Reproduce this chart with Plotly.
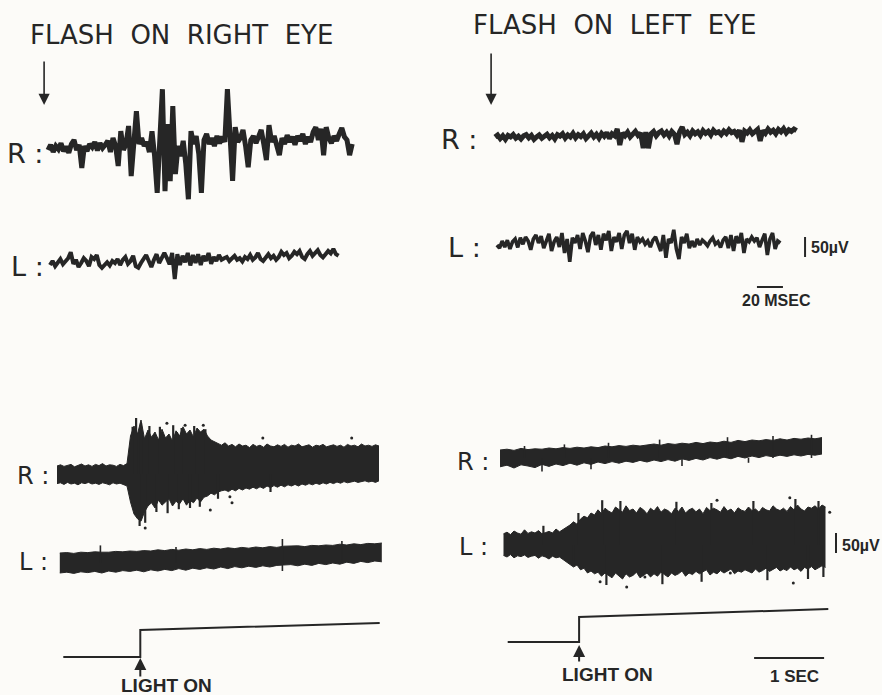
import plotly.graph_objects as go

# ---------------------------------------------------------------------------
# Page geometry and recording scales
# ---------------------------------------------------------------------------
W, H = 882, 695
PX_PER_MS = 1.3      # fast sweeps (top): 20 msec = 26 px
PX_PER_S = 70.0      # slow sweeps (bottom): 1 sec = 70 px
PX_PER_UV = 0.4      # 50 uV = 20 px

INK = "#262626"
PAPER = "#fcfbf8"

# ---------------------------------------------------------------------------
# Flash-evoked activity, 2 msec sampling (uV)
# ---------------------------------------------------------------------------
DT_MS = 2.0

flash_right_R = [
    -5, 8, -10, 5, -3, 12, -8, 4, -12, 10,
    20, -5, 8, -50, 5, -8, 10, 2, 15, -6,
    12, 0, 8, 18, -10, 25, 5, -45, 42, -5,
    10, 55, -70, 15, 92, 10, 25, 5, 15, -10,
    42, -20, -112, 20, 147, -108, 60, -83, 105, -65,
    5, -20, 18, -40, -128, 42, 10, 30, -15, -112,
    20, 35, 10, 25, 5, 30, 12, 28, 15, 147,
    20, -82, 52, 15, 25, 45, 5, -48, 20, 30,
    12, 28, 45, 10, -30, 57, 15, 30, 5, -18,
    25, 10, 32, 15, 28, 8, 30, 18, 35, 10,
    28, 15, 40, 52, 20, 48, -18, 52, 25, 12,
    30, 18, 35, 50, 28, 20, -18, 10,
]
flash_right_L = [
    -5, 5, -8, 2, 10, -3, 5, 12, 27, -2,
    8, -10, 0, 12, 5, -8, 15, 10, 20, -5,
    -12, -5, 2, -6, 5, 0, 10, -5, 8, 15,
    -2, 5, 18, -8, -12, 0, 10, 20, 5, -10,
    8, 22, 0, 15, 25, 12, -3, 25, -40, 22,
    -5, 18, 2, 25, -6, 20, 0, 22, -5, 18,
    5, 25, -2, 15, 5, 20, 8, 12, 15, 5,
    10, 18, 8, 12, 4, 15, 10, 20, 8, 14,
    25, 10, 5, 15, 22, 12, 18, 8, 15, 28,
    20, 25, 12, 18, 28, 22, 30, 15, 10, 22,
    30, 18, 25, 32, 20, 14, 22, 30, 24, 35,
    22, 18,
]
flash_left_R = [
    0, 5, -4, 3, -6, 4, 0, 6, -3, 2,
    -5, 3, 6, -2, 4, -6, 0, 5, -3, 2,
    7, -2, 4, -5, 6, 2, 8, -3, 5, 0,
    9, -2, 6, 1, 8, -4, 5, 10, 0, 7,
    -3, 9, 2, 11, -4, 8, 3, 20, -20, 10,
    3, 12, 0, 9, 14, 4, 10, -28, 12, -28,
    8, 14, 3, 11, 15, 5, 12, 2, 14, 7,
    -18, 13, 25, 6, 12, 3, 15, 8, 13, 4,
    16, 9, 14, 5, 17, 10, 13, 6, 15, 9,
    18, 11, 14, 5, 17, -12, 15, 10, 18, 8,
    14, 19, -10, 16, 9, 20, 12, 17, 8, 19,
    13, 21, 10, 18, 14, 20, 16,
]
flash_left_L = [
    0, -8, 10, -5, 12, -10, 8, 15, -6, 18,
    2, 20, 10, -12, 15, 25, 5, 22, -8, 12,
    28, -15, 8, 20, -5, 30, -20, 15, -42, 18,
    5, 25, -10, 30, 10, -18, 22, 32, 0, 25,
    -12, 28, 12, 35, -15, 20, 8, 30, -10, 25,
    35, 5, 28, -12, 20, 8, 15, 2, 10, -5,
    12, 20, 5, -15, 25, -32, 15, 5, 38, -10,
    -35, 20, 5, 28, -8, 10, -5, 15, 0, 12,
    6, -2, 10, 18, 2, 8, -6, 12, 20, -8,
    25, -15, 22, 5, 30, -20, 15, 8, 20, 10,
    18, -5, 12, 28, -25, 15, 30, -10, 10, 5,
]

# ---------------------------------------------------------------------------
# Light-on records: upper / lower envelope of the ink band (uV)
# ---------------------------------------------------------------------------
DT_FAST = 0.05   # sec
DT_SLOW = 0.10   # sec

light1_R_hi = [
    20, 23, 19, 22, 24, 18, 22, 25, 20, 23,
    19, 24, 21, 26, 20, 23, 22, 19, 24, 21,
    26, 95, 120, 100, 135, 88, 110, 92, 105, 85,
    112, 90, 100, 82, 108, 95, 118, 100, 110, 92,
    115, 105, 112, 95, 85, 80, 76, 72, 78, 70,
    74, 68, 75, 70, 72, 66, 74, 69, 72, 67,
    75, 70, 68, 73, 69, 74, 67, 72, 70, 75,
    68, 71, 73, 67, 72, 70, 74, 68, 71, 73,
    69, 72, 67, 74, 70, 72, 68, 75, 70, 72,
    69, 73, 70,
]
light1_R_lo = [
    -24, -22, -26, -21, -25, -23, -27, -22, -24, -21,
    -25, -23, -26, -22, -24, -27, -22, -25, -23, -26,
    -30, -70, -100, -112, -118, -95, -80, -72, -85, -65,
    -78, -70, -62, -80, -68, -75, -62, -78, -66, -72,
    -60, -70, -58, -55, -48, -52, -45, -42, -40, -44,
    -38, -42, -36, -40, -35, -38, -33, -37, -32, -36,
    -30, -34, -29, -33, -28, -32, -27, -30, -26, -30,
    -25, -28, -24, -27, -23, -26, -22, -25, -21, -24,
    -20, -23, -19, -22, -20, -18, -21, -19, -17, -20,
    -18, -21, -17,
]
light1_L_hi = [
    25, 26, 24, 27, 26, 28, 27, 27, 29, 28,
    30, 29, 31, 30, 33, 31, 34, 32, 35, 33,
    36, 34, 37, 35, 38, 36, 39, 37, 40, 38,
    41, 39, 42, 42, 43, 41, 44, 43, 45, 44,
    47, 45, 48, 46, 49, 48, 50,
]
light1_L_lo = [
    -25, -23, -26, -22, -24, -21, -25, -20, -23, -19,
    -21, -18, -22, -17, -20, -16, -19, -14, -18, -13,
    -16, -12, -15, -10, -14, -9, -12, -8, -11, -7,
    -10, -6, -5, -4, -7, -3, -6, -1, -4, 0,
    -3, 2, -1, 4, 1, 5, 3,
]
light2_R_hi = [
    20, 22, 19, 24, 21, 23, 22, 25, 23, 26,
    24, 27, 25, 28, 26, 30, 28, 31, 29, 32,
    30, 33, 35, 32, 36, 34, 37, 35, 39, 36,
    40, 38, 42, 39, 44, 41, 45, 43, 46, 44,
    48, 45, 49, 47, 50, 48, 51,
]
light2_R_lo = [
    -22, -18, -25, -17, -20, -24, -16, -21, -15, -19,
    -13, -18, -12, -16, -10, -14, -9, -13, -8, -11,
    -6, -10, -5, -9, -4, -8, -2, -6, -1, -5,
    1, -3, 2, -2, 4, 0, 5, 1, 6, 3,
    7, 4, 8, 5, 9, 7, 10,
]
light2_L_hi = [
    28, 32, 26, 35, 30, 27, 38, 29, 33, 30,
    36, 28, 31, 34, 30, 40, 33, 38, 45, 50,
    58, 52, 65, 72, 68, 80, 75, 88, 78, 92,
    85, 80, 95, 88, 82, 98, 86, 90, 80, 94,
    88, 78, 92, 85, 96, 82, 90, 86, 78, 92,
    84, 95, 80, 88, 92, 83, 90, 78, 94, 86,
    92, 88, 82, 96, 85, 90, 80, 93, 87, 84,
    95, 86, 90, 82, 94, 88, 85, 98, 90, 86,
    92, 84, 96, 88, 100, 90, 85, 95, 92, 98,
    90, 100, 95,
]
light2_L_lo = [
    -26, -30, -24, -32, -27, -29, -25, -31, -28, -26,
    -33, -27, -30, -35, -28, -32, -30, -36, -42, -48,
    -55, -50, -62, -58, -70, -65, -72, -68, -78, -70,
    -75, -82, -70, -78, -85, -72, -80, -76, -68, -82,
    -75, -70, -80, -72, -78, -68, -74, -80, -70, -76,
    -72, -65, -78, -70, -74, -66, -72, -68, -62, -75,
    -68, -72, -64, -70, -66, -60, -72, -65, -68, -62,
    -66, -70, -60, -68, -64, -58, -66, -62, -56, -65,
    -60, -64, -55, -62, -58, -66, -56, -60, -54, -62,
    -58, -52, -56,
]

# isolated pen strokes sticking out of the bands: (sec, uV peak)
light1_R_spike_t = [1.08, 1.13, 1.20, 1.32, 1.47, 1.66, 1.78, 1.96, 2.12,
                    1.18, 1.26, 1.42, 1.58, 1.74, 1.90, 2.04, 2.30, 3.05]
light1_R_spike_v = [118, 140, 128, 120, 118, 122, 115, 120, 112,
                    -130, -122, -95, -98, -88, -85, -82, -62, -45]
light1_L_spike_t = [0.62, 1.70, 3.22, 4.07, 3.22]
light1_L_spike_v = [44, 40, 60, 55, -20]
light2_R_spike_t = [0.35, 0.92, 1.55, 2.28, 3.25, 3.90, 4.45, 0.60, 1.30, 2.60, 3.55]
light2_R_spike_v = [30, 34, 38, 46, 52, 55, 58, -34, -28, -20, -12]
light2_L_spike_t = [0.62, 1.12, 1.46, 1.72, 2.52, 3.02, 3.62, 4.22, 4.55,
                    1.05, 1.52, 2.32, 2.88, 3.82, 4.40, 4.62]
light2_L_spike_v = [48, 80, 112, 110, 108, 105, 110, 115, 110,
                    -50, -100, -98, -92, -88, -85, -80]

# scattered ink specks around the bursts: (sec, uV)
light1_R_specks_t = [1.57, 1.83, 2.09, 1.71, 2.50, 2.47, 2.19, 1.26, 2.94, 4.21]
light1_R_specks_v = [127, 122, 122, 102, -72, -57, -90, -135, 90, 90]
light2_L_specks_t = [1.43, 1.81, 2.07, 3.10, 4.14, 4.19, 4.71, 3.29]
light2_L_specks_v = [-92, -105, -80, 112, 118, -95, 82, -70]

# light monitor: step times (sec) and level (0 = off, 1 = on, with pen drift)
light1_stim_t = [0.09, 1.19, 1.19, 4.61]
light1_stim_v = [0, 0, 1, 1.26]
light2_stim_t = [0.11, 1.13, 1.13, 4.69]
light2_stim_v = [0, 0, 1, 1.32]

# ---------------------------------------------------------------------------
# Page layout (pixel positions of sweep origins and baselines)
# ---------------------------------------------------------------------------
PANEL = {
    "x":  dict(x0=48,  R=148, L=263, L_t0=1.5),
    "x2": dict(x0=495, R=137, L=245, L_t0=1.5),
    "x3": dict(x0=57,  R=474, L=563, L_t0=0.04, stim=657, stim_h=27),
    "x4": dict(x0=500, R=458, L=545, L_t0=0.05, stim=642, stim_h=25),
}


def base(px):
    """Baseline value (uV on the page axis) for a pixel row."""
    return -px / PX_PER_UV


def py(px):
    return 1 - px / H


fig = go.Figure()


def sweep(xaxis, values, dt, t0, baseline_px, width):
    b = base(baseline_px)
    fig.add_trace(go.Scatter(
        x=[t0 + i * dt for i in range(len(values))],
        y=[v + b for v in values],
        xaxis=xaxis, yaxis="y", mode="lines",
        line=dict(color=INK, width=width, shape="linear"),
        hoverinfo="skip", showlegend=False))


def band(xaxis, hi, lo, dt, t0, baseline_px):
    b = base(baseline_px)
    t = [t0 + i * dt for i in range(len(hi))]
    fig.add_trace(go.Scatter(
        x=t, y=[v + b for v in hi], xaxis=xaxis, yaxis="y", mode="lines",
        line=dict(color=INK, width=1), hoverinfo="skip", showlegend=False))
    fig.add_trace(go.Scatter(
        x=t, y=[v + b for v in lo], xaxis=xaxis, yaxis="y", mode="lines",
        line=dict(color=INK, width=1), fill="tonexty", fillcolor=INK,
        hoverinfo="skip", showlegend=False))


def spikes(xaxis, ts, vs, baseline_px, width=1.6):
    b = base(baseline_px)
    xs, ys = [], []
    for t, v in zip(ts, vs):
        xs += [t, t, None]
        ys += [b, b + v, None]
    fig.add_trace(go.Scatter(
        x=xs, y=ys, xaxis=xaxis, yaxis="y", mode="lines",
        line=dict(color=INK, width=width), hoverinfo="skip", showlegend=False))


def specks(xaxis, ts, vs, baseline_px):
    b = base(baseline_px)
    fig.add_trace(go.Scatter(
        x=ts, y=[v + b for v in vs], xaxis=xaxis, yaxis="y", mode="markers",
        marker=dict(color=INK, size=3), hoverinfo="skip", showlegend=False))


def stim(xaxis, ts, vs, p):
    b = base(p["stim"])
    k = p["stim_h"] / PX_PER_UV
    fig.add_trace(go.Scatter(
        x=ts, y=[b + v * k for v in vs], xaxis=xaxis, yaxis="y", mode="lines",
        line=dict(color=INK, width=2), hoverinfo="skip", showlegend=False))


def bar(xaxis, xs, ys):
    fig.add_trace(go.Scatter(
        x=xs, y=ys, xaxis=xaxis, yaxis="y", mode="lines",
        line=dict(color=INK, width=2), hoverinfo="skip", showlegend=False))


# flash sweeps
p = PANEL["x"]
sweep("x", flash_right_R, DT_MS, 0, p["R"], 5.0)
sweep("x", flash_right_L, DT_MS, p["L_t0"], p["L"], 4.0)
p = PANEL["x2"]
sweep("x2", flash_left_R, DT_MS, 0, p["R"], 5.0)
sweep("x2", flash_left_L, DT_MS, p["L_t0"], p["L"], 3.6)

# light-on sweeps
p = PANEL["x3"]
band("x3", light1_R_hi, light1_R_lo, DT_FAST, 0, p["R"])
spikes("x3", light1_R_spike_t, light1_R_spike_v, p["R"], 2.2)
band("x3", light1_L_hi, light1_L_lo, DT_SLOW, p["L_t0"], p["L"])
spikes("x3", light1_L_spike_t, light1_L_spike_v, p["L"])
specks("x3", light1_R_specks_t, light1_R_specks_v, p["R"])
stim("x3", light1_stim_t, light1_stim_v, p)
p = PANEL["x4"]
band("x4", light2_R_hi, light2_R_lo, DT_SLOW, 0, p["R"])
spikes("x4", light2_R_spike_t, light2_R_spike_v, p["R"])
band("x4", light2_L_hi, light2_L_lo, DT_FAST, p["L_t0"], p["L"])
spikes("x4", light2_L_spike_t, light2_L_spike_v, p["L"], 2.2)
specks("x4", light2_L_specks_t, light2_L_specks_v, p["L"])
stim("x4", light2_stim_t, light2_stim_v, p)

# calibration bars
UV_BAR = 50
MS_BAR = 20
S_BAR = 1
bar("x2", [238.5, 238.5], [base(257), base(257) + UV_BAR])
bar("x2", [201.5, 201.5 + MS_BAR], [base(287), base(287)])
bar("x4", [3.63, 3.63 + S_BAR], [base(658), base(658)])
bar("x4", [4.8, 4.8], [base(553), base(553) + UV_BAR])


def axis_range(x0_px, px_per_unit):
    return [-x0_px / px_per_unit, (W - x0_px) / px_per_unit]


hidden = dict(visible=False, showgrid=False, zeroline=False, fixedrange=True)
fig.update_layout(
    width=W, height=H, autosize=False,
    margin=dict(l=0, r=0, t=0, b=0, pad=0),
    paper_bgcolor=PAPER, plot_bgcolor="rgba(0,0,0,0)",
    xaxis=dict(range=axis_range(PANEL["x"]["x0"], PX_PER_MS), domain=[0, 1], **hidden),
    xaxis2=dict(range=axis_range(PANEL["x2"]["x0"], PX_PER_MS), overlaying="x", anchor="y", **hidden),
    xaxis3=dict(range=axis_range(PANEL["x3"]["x0"], PX_PER_S), overlaying="x", anchor="y", **hidden),
    xaxis4=dict(range=axis_range(PANEL["x4"]["x0"], PX_PER_S), overlaying="x", anchor="y", **hidden),
    yaxis=dict(range=[-H / PX_PER_UV, 0], domain=[0, 1], **hidden),
)

ann = []
TITLE_FONT = dict(family="DejaVu Sans", size=26, color=INK)
LABEL_FONT = dict(family="DejaVu Sans", size=27, color=INK)
LABEL_FONT_SM = dict(family="DejaVu Sans", size=24, color=INK)
BOLD_FONT = dict(family="Liberation Sans", size=19, color=INK)
CAL_FONT = dict(family="Liberation Sans", size=16, color=INK)
NB = "\u00a0\u00a0"


def text(s, x_px, y_px, font, xanchor="left"):
    ann.append(dict(text=s, x=x_px / W, y=py(y_px), xref="paper", yref="paper",
                    xanchor=xanchor, yanchor="middle", showarrow=False, font=font))


text(NB.join(["FLASH", "ON", "RIGHT", "EYE"]), 28, 35, TITLE_FONT)
text(NB.join(["FLASH", "ON", "LEFT", "EYE"]), 471, 25, TITLE_FONT)

text("R :", 5, 153, LABEL_FONT)
text("L :", 9, 266, LABEL_FONT)
text("R :", 439, 140, LABEL_FONT)
text("L :", 446, 247, LABEL_FONT)
text("R :", 15, 476, LABEL_FONT_SM)
text("L :", 17, 562, LABEL_FONT_SM)
text("R :", 455, 462, LABEL_FONT_SM)
text("L :", 457, 547, LABEL_FONT_SM)

text("<b>50\u00b5V</b>", 809, 248, CAL_FONT)
text("<b>20 MSEC</b>", 740, 300, CAL_FONT)
text("<b>50\u00b5V</b>", 840, 545, CAL_FONT)
text("<b>1 SEC</b>", 768, 676, dict(family="Liberation Sans", size=17, color=INK))
text("<b>LIGHT ON</b>", 119, 685, BOLD_FONT)
text("<b>LIGHT ON</b>", 560, 674, BOLD_FONT)

# stimulus arrows
ann.append(dict(x=-3, xref="x", y=py(105), yref="paper", ax=0, ay=-45,
                text="", showarrow=True, arrowhead=2, arrowsize=1.4,
                arrowwidth=1.6, arrowcolor=INK))
ann.append(dict(x=-3, xref="x2", y=py(105), yref="paper", ax=0, ay=-53,
                text="", showarrow=True, arrowhead=2, arrowsize=1.4,
                arrowwidth=1.6, arrowcolor=INK))
ann.append(dict(x=light1_stim_t[1], xref="x3", y=py(658), yref="paper", ax=0, ay=20,
                text="", showarrow=True, arrowhead=2, arrowsize=1.2,
                arrowwidth=2, arrowcolor=INK))
ann.append(dict(x=light2_stim_t[1], xref="x4", y=py(645), yref="paper", ax=0, ay=18,
                text="", showarrow=True, arrowhead=2, arrowsize=1.2,
                arrowwidth=2, arrowcolor=INK))

fig.update_layout(annotations=ann)
fig.write_html("out.html")
